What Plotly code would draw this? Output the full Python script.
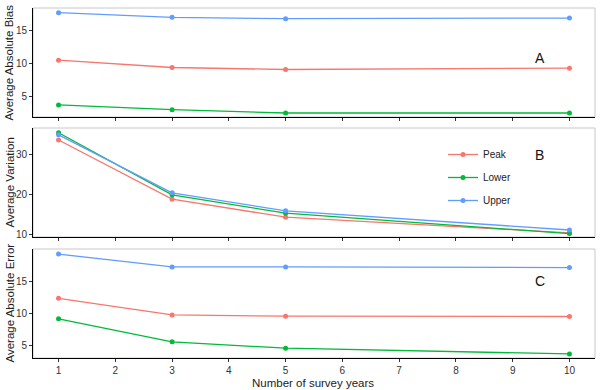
import plotly.graph_objects as go

years = [1, 3, 5, 10]
series_names = ["Peak", "Lower", "Upper"]
colors = {"Peak": "#F8766D", "Lower": "#00BA38", "Upper": "#619CFF"}

bias_peak = [10.5, 9.4, 9.1, 9.3]
bias_lower = [3.8, 3.1, 2.6, 2.6]
bias_upper = [17.6, 16.9, 16.7, 16.8]

var_peak = [33.5, 18.7, 14.2, 10.3]
var_lower = [35.3, 19.8, 15.2, 10.1]
var_upper = [34.8, 20.3, 15.8, 11.0]

err_peak = [12.3, 9.7, 9.5, 9.45]
err_lower = [9.1, 5.5, 4.5, 3.6]
err_upper = [19.2, 17.2, 17.2, 17.1]

panel_titles = ["Average Absolute Bias", "Average Variation", "Average Absolute Error"]
panel_labels = ["A", "B", "C"]
x_ticks = [1, 2, 3, 4, 5, 6, 7, 8, 9, 10]
y_ticks = [[5, 10, 15], [10, 20, 30], [5, 10, 15]]
y_ranges = [[2.0, 18.3], [9.25, 36.5], [2.97, 20.0]]

panels = [
    {"Peak": bias_peak, "Lower": bias_lower, "Upper": bias_upper},
    {"Peak": var_peak, "Lower": var_lower, "Upper": var_upper},
    {"Peak": err_peak, "Lower": err_lower, "Upper": err_upper},
]

L, R, T, B = 33, 5, 8, 32
W, H = 600, 390
ph = H - T - B
pw = W - L - R

def fy(py):
    return (H - B - py) / ph

domains = [[fy(117), 1.0], [fy(237), fy(128)], [0.0, fy(249)]]

fig = go.Figure()
font_fam = "Arial, Liberation Sans, sans-serif"

for i, data in enumerate(panels):
    xa = "x" if i == 0 else f"x{i+1}"
    ya = "y" if i == 0 else f"y{i+1}"
    for name in series_names:
        fig.add_trace(go.Scatter(
            x=years, y=data[name], mode="lines+markers", name=name,
            xaxis=xa, yaxis=ya,
            line=dict(color=colors[name], width=1.3),
            marker=dict(color=colors[name], size=5),
            showlegend=(i == 1), legendgroup=name,
        ))

layout = dict(
    width=W, height=H,
    margin=dict(l=L, r=R, t=T, b=B, autoexpand=False),
    paper_bgcolor="white", plot_bgcolor="white",
    font=dict(family=font_fam, color="#222"),
    legend=dict(x=(443 - L) / pw, y=fy(140), xanchor="left", yanchor="top",
                bgcolor="rgba(0,0,0,0)", font=dict(size=10, color="#222"),
                tracegroupgap=4, itemwidth=30),
    shapes=[], annotations=[],
)

for i in range(3):
    xk = "xaxis" if i == 0 else f"xaxis{i+1}"
    yk = "yaxis" if i == 0 else f"yaxis{i+1}"
    ya = "y" if i == 0 else f"y{i+1}"
    xa = "x" if i == 0 else f"x{i+1}"
    layout[xk] = dict(
        domain=[0, 1], anchor=ya, range=[0.55, 10.45],
        tickvals=x_ticks, ticks="outside", ticklen=3, tickcolor="#333",
        showticklabels=(i == 2), tickfont=dict(size=10, color="#333"),
        showline=True, linecolor="black", linewidth=1, showgrid=False, zeroline=False,
        automargin=False,
    )
    layout[yk] = dict(
        domain=domains[i], anchor=xa, range=y_ranges[i],
        tickvals=y_ticks[i], ticks="outside", ticklen=3, tickcolor="#333",
        tickfont=dict(size=10, color="#333"),
        showline=True, linecolor="black", linewidth=1, showgrid=False, zeroline=False,
        automargin=False,
    )
    layout["shapes"].append(dict(
        type="rect", xref=f"{xa} domain", yref=f"{ya} domain",
        x0=0, x1=1, y0=0, y1=1, line=dict(color="#C8C8C8", width=1), layer="below",
    ))
    layout["annotations"].append(dict(
        text=panel_titles[i], xref="paper", yref="paper",
        x=-(L - 9) / pw, y=(domains[i][0] + domains[i][1]) / 2,
        textangle=-90, showarrow=False, font=dict(size=11.5, color="#222"),
        xanchor="center", yanchor="middle",
    ))

label_pos = [(540, 58), (539, 155), (540, 281)]
for lab, (px, py) in zip(panel_labels, label_pos):
    layout["annotations"].append(dict(
        text=lab, xref="paper", yref="paper", x=(px - L) / pw, y=fy(py),
        showarrow=False, font=dict(size=14, color="#111"),
        xanchor="center", yanchor="middle",
    ))

layout["annotations"].append(dict(
    text="Number of survey years", xref="paper", yref="paper",
    x=(313 - L) / pw, y=fy(383), showarrow=False,
    font=dict(size=11.5, color="#222"), xanchor="center", yanchor="middle",
))

fig.update_layout(**layout)
fig.write_html("out.html", post_script="document.body.style.margin='0';",
               config={"displayModeBar": False})
